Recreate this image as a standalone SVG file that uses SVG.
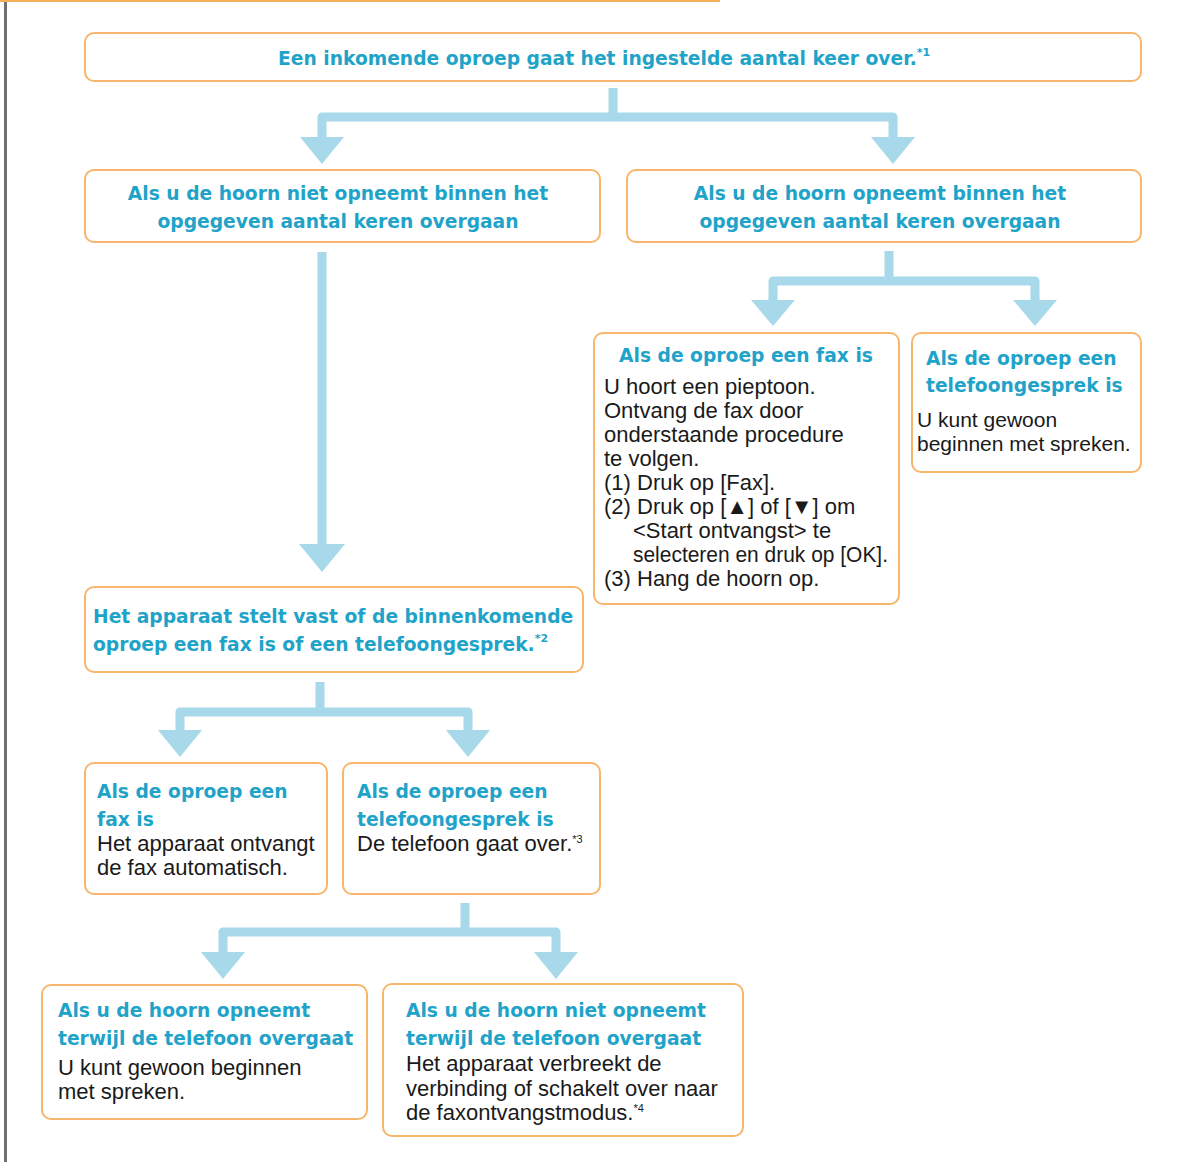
<svg xmlns="http://www.w3.org/2000/svg" width="1193" height="1162" viewBox="0 0 1193 1162">
<style>
.box{fill:#fff;stroke:#f8b66c;stroke-width:2}
.t{font-family:"DejaVu Sans","Verdana",sans-serif;font-weight:bold;font-size:18.7px;fill:#1fa3c9}
.b{font-family:"Liberation Sans","Arial","DejaVu Sans",sans-serif;font-size:22px;fill:#1a1a1a}
.sup{font-size:11px}
.arr{fill:none;stroke:#a8d9ea;stroke-width:9;stroke-linejoin:round}
.head{fill:#a8d9ea}
</style>
<rect x="0" y="0" width="1193" height="1162" fill="#fff"/>
<rect x="4" y="0" width="3" height="1162" fill="#707070"/>
<rect x="0" y="0" width="720" height="2" fill="#f7b05a"/>

<g id="connectors">
<path class="arr" d="M613,88 V117 M322,138 V117 H893 V138"/>
<polygon class="head" points="300,137 344,137 322,164"/>
<polygon class="head" points="871,137 915,137 893,164"/>
<path class="arr" d="M322,252 V545"/>
<polygon class="head" points="299,544 345,544 322,572"/>
<path class="arr" d="M889,251 V281 M773,301 V281 H1035 V301"/>
<polygon class="head" points="751,300 795,300 773,326"/>
<polygon class="head" points="1013,300 1057,300 1035,326"/>
<path class="arr" d="M320,682 V712 M180,731 V712 H468 V731"/>
<polygon class="head" points="158,730 202,730 180,757"/>
<polygon class="head" points="446,730 490,730 468,757"/>
<path class="arr" d="M465,903 V932 M223,953 V932 H556 V953"/>
<polygon class="head" points="201,952 245,952 223,979"/>
<polygon class="head" points="534,952 578,952 556,979"/>
</g>

<g id="n1">
<rect class="box" x="85" y="33" width="1056" height="48" rx="9"/>
<text class="t" x="278" y="65">Een inkomende oproep gaat het ingestelde aantal keer over.<tspan class="sup" dy="-9">*1</tspan></text>
</g>

<g id="n2">
<rect class="box" x="85" y="170" width="515" height="72" rx="9"/>
<text class="t" x="338" y="200" text-anchor="middle">Als u de hoorn niet opneemt binnen het</text>
<text class="t" x="338" y="228" text-anchor="middle">opgegeven aantal keren overgaan</text>
</g>

<g id="n3">
<rect class="box" x="627" y="170" width="514" height="72" rx="9"/>
<text class="t" x="880" y="200" text-anchor="middle">Als u de hoorn opneemt binnen het</text>
<text class="t" x="880" y="228" text-anchor="middle">opgegeven aantal keren overgaan</text>
</g>

<g id="n4">
<rect class="box" x="594" y="333" width="305" height="271" rx="9"/>
<text class="t" x="746" y="362" text-anchor="middle">Als de oproep een fax is</text>
<text class="b" x="604" y="394">U hoort een pieptoon.</text>
<text class="b" x="604" y="418">Ontvang de fax door</text>
<text class="b" x="604" y="442">onderstaande procedure</text>
<text class="b" x="604" y="466">te volgen.</text>
<text class="b" x="604" y="490">(1) Druk op [Fax].</text>
<text class="b" x="604" y="514">(2) Druk op [▲] of [▼] om</text>
<text class="b" x="633" y="538">&lt;Start ontvangst&gt; te</text>
<text class="b" x="633" y="562" textLength="255" lengthAdjust="spacingAndGlyphs">selecteren en druk op [OK].</text>
<text class="b" x="604" y="586">(3) Hang de hoorn op.</text>
</g>

<g id="n5">
<rect class="box" x="912" y="333" width="229" height="139" rx="9"/>
<text class="t" x="926" y="365">Als de oproep een</text>
<text class="t" x="926" y="392">telefoongesprek is</text>
<text class="b" x="917" y="427" style="font-size:21px">U kunt gewoon</text>
<text class="b" x="917" y="451" style="font-size:21px">beginnen met spreken.</text>
</g>

<g id="n6">
<rect class="box" x="85" y="587" width="498" height="85" rx="9"/>
<text class="t" x="93" y="623">Het apparaat stelt vast of de binnenkomende</text>
<text class="t" x="93" y="651">oproep een fax is of een telefoongesprek.<tspan class="sup" dy="-9">*2</tspan></text>
</g>

<g id="n7">
<rect class="box" x="85" y="763" width="242" height="131" rx="9"/>
<text class="t" x="97" y="798">Als de oproep een</text>
<text class="t" x="97" y="826">fax is</text>
<text class="b" x="97" y="851">Het apparaat ontvangt</text>
<text class="b" x="97" y="875">de fax automatisch.</text>
</g>

<g id="n8">
<rect class="box" x="343" y="763" width="257" height="131" rx="9"/>
<text class="t" x="357" y="798">Als de oproep een</text>
<text class="t" x="357" y="826">telefoongesprek is</text>
<text class="b" x="357" y="851">De telefoon gaat over.<tspan class="sup" dy="-8">*3</tspan></text>
</g>

<g id="n9">
<rect class="box" x="42" y="985" width="325" height="134" rx="9"/>
<text class="t" x="58" y="1017">Als u de hoorn opneemt</text>
<text class="t" x="58" y="1045">terwijl de telefoon overgaat</text>
<text class="b" x="58" y="1075">U kunt gewoon beginnen</text>
<text class="b" x="58" y="1099">met spreken.</text>
</g>

<g id="n10">
<rect class="box" x="383" y="984" width="360" height="152" rx="9"/>
<text class="t" x="406" y="1017">Als u de hoorn niet opneemt</text>
<text class="t" x="406" y="1045">terwijl de telefoon overgaat</text>
<text class="b" x="406" y="1071">Het apparaat verbreekt de</text>
<text class="b" x="406" y="1096">verbinding of schakelt over naar</text>
<text class="b" x="406" y="1120">de faxontvangstmodus.<tspan class="sup" dy="-8">*4</tspan></text>
</g>
</svg>
